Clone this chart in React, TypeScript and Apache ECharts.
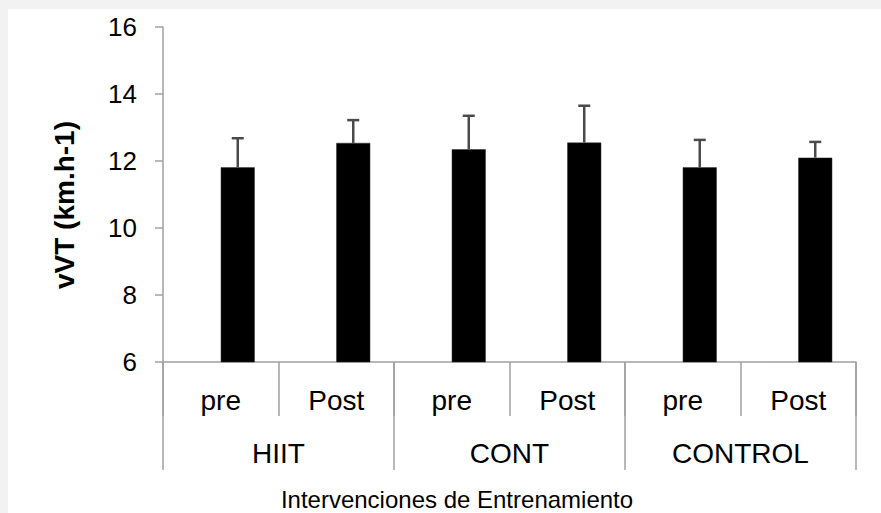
import React, { useEffect, useRef } from "react";
import * as echarts from "echarts";

// Sub-categories (time points) and their groups (interventions)
const categories = ["pre", "Post", "pre", "Post", "pre", "Post"];
const groups = ["HIIT", "CONT", "CONTROL"];

// Mean vVT (km.h-1) and standard deviation for each bar
const meanValues = [11.81, 12.54, 12.35, 12.55, 11.81, 12.1];
const errorValues = [0.87, 0.68, 1.0, 1.1, 0.82, 0.47];

// Y axis scale
const yMin = 6;
const yMax = 16;
const yStep = 2;

const yTitle = "vVT (km.h-1)";
const xTitle = "Intervenciones de Entrenamiento";

const FONT = "'Liberation Sans', Arial, Helvetica, sans-serif";
const AXIS_GRAY = "#a0a0a0";
const TEXT = "#000";
const BAR_WIDTH = 34;

export default function App() {
  const ref = useRef<HTMLDivElement>(null);

  useEffect(() => {
    if (!ref.current) return;
    const chart = echarts.init(ref.current, undefined, { renderer: "svg" });

    const option: echarts.EChartsOption = {
      animation: false,
      backgroundColor: "#ffffff",
      grid: { left: 163, right: 25, top: 27, bottom: 151, containLabel: false },
      xAxis: [
        {
          type: "category",
          data: categories,
          position: "bottom",
          boundaryGap: true,
          axisLine: { show: true, lineStyle: { color: AXIS_GRAY, width: 1.5 } },
          axisTick: { show: true, interval: 0, length: 54, lineStyle: { color: AXIS_GRAY, width: 1.5 } },
          axisLabel: {
            interval: 0,
            margin: 24,
            color: TEXT,
            fontSize: 28,
            fontFamily: FONT,
          },
        },
        {
          type: "category",
          data: groups,
          position: "bottom",
          offset: 0,
          boundaryGap: true,
          axisLine: { show: false },
          axisTick: { show: true, interval: 0, length: 108, lineStyle: { color: AXIS_GRAY, width: 1.5 } },
          axisLabel: {
            interval: 0,
            margin: 77,
            color: TEXT,
            fontSize: 28,
            fontFamily: FONT,
          },
        },
      ],
      yAxis: {
        type: "value",
        min: yMin,
        max: yMax,
        interval: yStep,
        splitLine: { show: false },
        axisLine: { show: true, lineStyle: { color: AXIS_GRAY, width: 1.5 } },
        axisTick: { show: true, length: 8, lineStyle: { color: AXIS_GRAY, width: 1.5 } },
        axisLabel: { margin: 26, color: TEXT, fontSize: 26, fontFamily: FONT },
      },
      series: [
        // empty companion series: the data bar sits in the right slot of each category
        {
          type: "bar",
          xAxisIndex: 0,
          barWidth: BAR_WIDTH,
          barGap: "0%",
          data: categories.map(() => "-"),
          silent: true,
        },
        {
          type: "bar",
          xAxisIndex: 0,
          barWidth: BAR_WIDTH,
          barGap: "0%",
          data: meanValues,
          itemStyle: { color: "#000000", borderColor: "#333", borderWidth: 0.5 },
          silent: true,
        },
        {
          type: "custom",
          xAxisIndex: 0,
          silent: true,
          z: 5,
          encode: { x: 0, y: 1 },
          data: meanValues.map((v, i) => [i, v, errorValues[i]]),
          renderItem: (params: any, api: any) => {
            const i = api.value(0);
            const v = api.value(1);
            const e = api.value(2);
            const base = api.coord([i, v]);
            const top = api.coord([i, v + e]);
            const x = base[0] + BAR_WIDTH / 2;
            const style = { stroke: "#4a4a4a", lineWidth: 2.5 };
            return {
              type: "group",
              children: [
                { type: "line", shape: { x1: x, y1: base[1], x2: x, y2: top[1] }, style },
                { type: "line", shape: { x1: x - 6, y1: top[1], x2: x + 6, y2: top[1] }, style },
              ],
            };
          },
        },
      ],
      graphic: [
        { type: "rect", left: 0, top: 0, shape: { width: 881, height: 9 }, style: { fill: "#f2f2f2" }, silent: true },
        { type: "rect", left: 0, top: 0, shape: { width: 8, height: 513 }, style: { fill: "#f2f2f2" }, silent: true },
        {
          type: "text",
          x: 64,
          y: 205,
          rotation: Math.PI / 2,
          style: {
            text: yTitle,
            fill: TEXT,
            font: `bold 28px ${FONT}`,
            textAlign: "center",
            textVerticalAlign: "middle",
          } as any,
        },
        {
          type: "text",
          x: 457,
          y: 499,
          style: {
            text: xTitle,
            fill: TEXT,
            font: `24px ${FONT}`,
            textAlign: "center",
            textVerticalAlign: "middle",
          } as any,
        },
      ],
    };

    chart.setOption(option);
    return () => chart.dispose();
  }, []);

  return (
    <div
      ref={ref}
      style={{ position: "fixed", left: 0, top: 0, width: 881, height: 513, background: "#fff" }}
    />
  );
}
